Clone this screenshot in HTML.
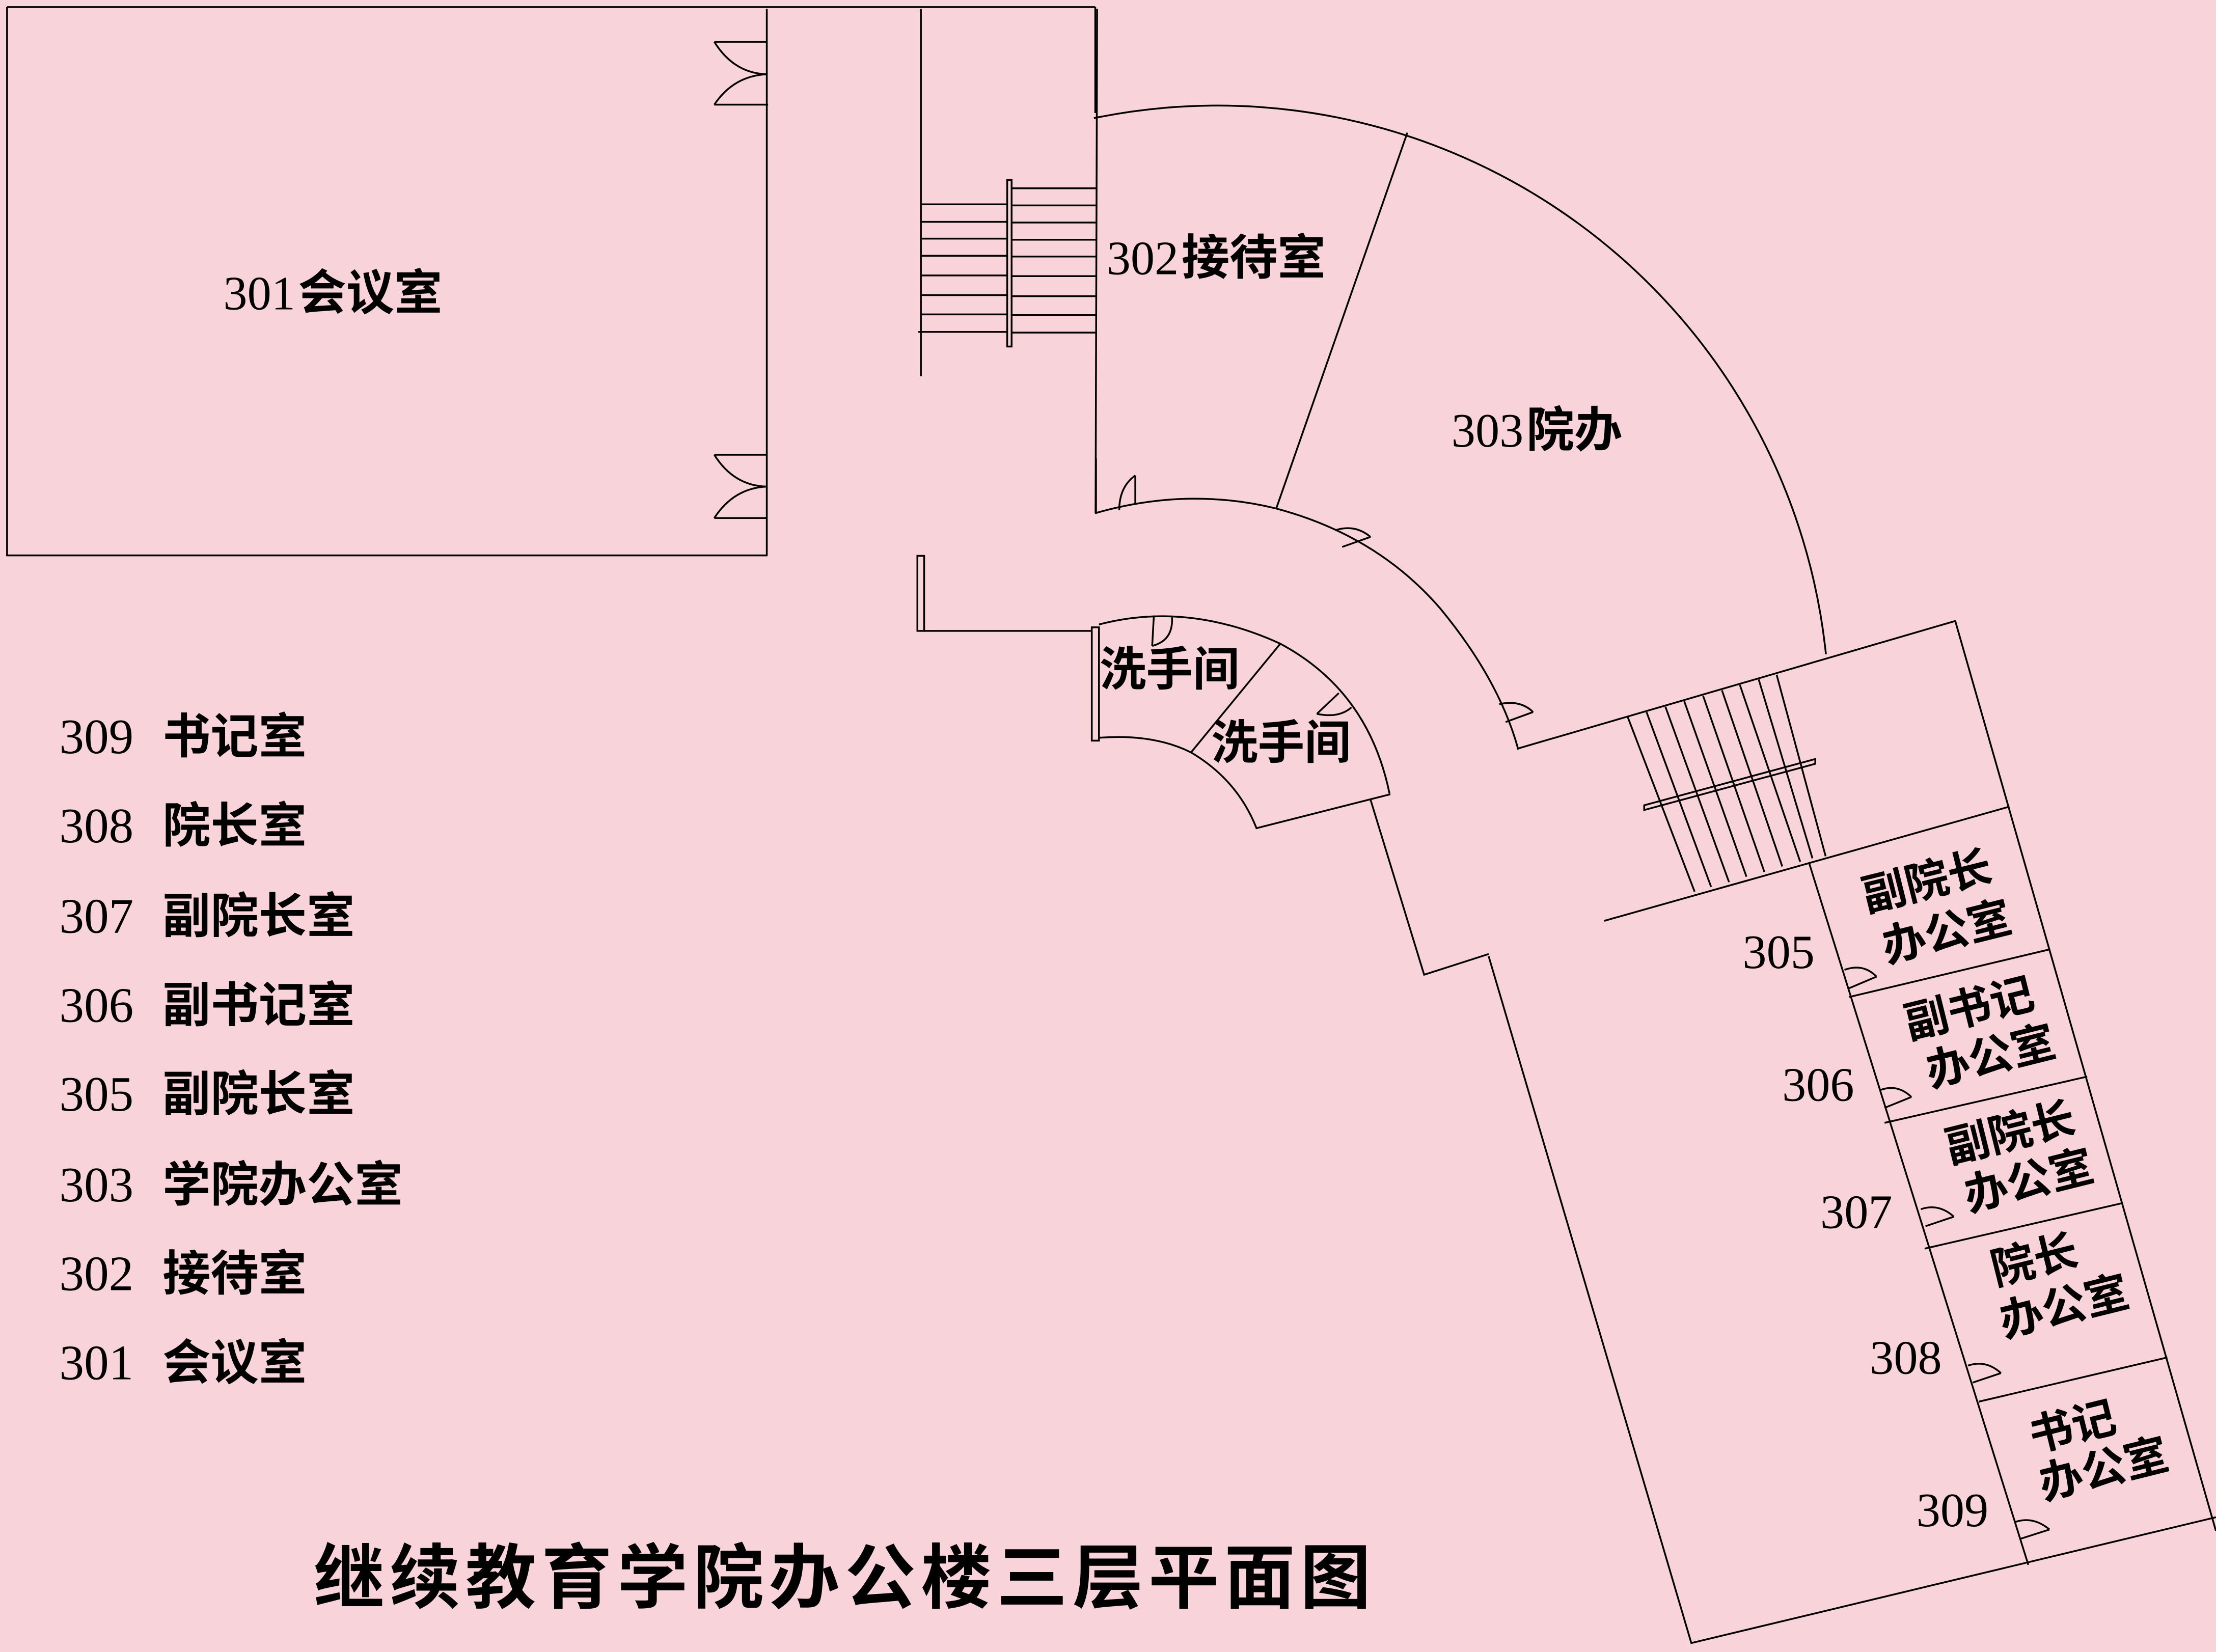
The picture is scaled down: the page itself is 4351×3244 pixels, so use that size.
<!DOCTYPE html>
<html><head><meta charset="utf-8">
<style>
html,body{margin:0;padding:0;background:#F8D3DA;}
svg{display:block;}
.l{fill:none;stroke:#000;stroke-width:3.5;vector-effect:non-scaling-stroke;}
.cn{font-family:"Liberation Sans","Noto Sans CJK SC",sans-serif;font-weight:bold;fill:#000;}
.nm{font-family:"Liberation Serif","Noto Serif CJK SC",serif;fill:#000;}
</style></head>
<body>
<svg width="4351" height="3244" viewBox="0 0 1568 1169" preserveAspectRatio="none" xmlns="http://www.w3.org/2000/svg">
<rect x="0" y="0" width="1568" height="1169" fill="#F8D3DA"/>

<path class="l" d="M5,5 L5,393 L543,393 M5,5 L775,5"/>
<path class="l" d="M775,5 L775,80"/>

<g transform="translate(504.5,0) scale(0.1839,0.2528)">
  <path class="l" d="M207,25 L207,1555 M800,25 L800,1053 M1478,25 L1472,1437"/>
  <path class="l" d="M5,117 L207,117 M5,293 L212,293 M5,117 Q80,205 207,208 M5,293 Q80,212 207,208"/>
  <path class="l" d="M5,1273 L207,1273 M5,1450 L207,1450 M5,1273 Q80,1360 207,1362 M5,1450 Q80,1366 207,1362"/>
  <path class="l" d="M800,572 L1130,572 M800,621 L1130,621 M800,668 L1130,668 M800,716 L1130,716 M800,771 L1130,771 M800,826 L1130,826 M800,880 L1130,880 M790,929 L1130,929"/>
  <rect class="l" x="1132" y="504" width="17" height="466"/>
  <path class="l" d="M1149,527 L1473,527 M1149,575 L1473,575 M1149,623 L1473,623 M1149,671 L1473,671 M1149,718 L1473,718 M1149,773 L1473,773 M1149,829 L1473,829 M1149,882 L1473,882 M1149,931 L1473,931"/>
</g>

<path class="l" d="M774,83.6 A433,433 0 0 1 1292,463"/>
<path class="l" d="M995.8,93.9 L903,360"/>

<g transform="translate(630.6,324.3) scale(0.2988,0.2529)">
  <path class="l" d="M485,0 L485,153 Q700,80 910,140 Q1150,215 1300,420 Q1440,620 1485,815"/>
  <path class="l" d="M578,48 L578,130 M578,48 Q540,80 540,145"/>
  <path class="l" d="M1068,248 L1135,220 M1055,200 Q1100,185 1135,220"/>
  <path class="l" d="M1455,738 L1520,710 M1440,688 Q1490,675 1520,710"/>
  <rect class="l" x="62" y="273" width="16" height="210"/>
  <path class="l" d="M78,483 L475,483"/>
  <rect class="l" x="475" y="473" width="17" height="317"/>
  <path class="l" d="M492,465 Q700,400 920,518 Q1130,650 1180,938"/>
  <path class="l" d="M492,782 Q620,770 710,823 Q820,900 865,1035 L1182,940"/>
  <path class="l" d="M922,518 L710,823"/>
  <path class="l" d="M622,440 L618,525 M665,445 Q668,510 618,525"/>
  <path class="l" d="M1060,657 L1008,715 M1008,715 Q1060,728 1090,697"/>
  <path class="l" d="M1135,955 L1262,1445 L1415,1387"/>
</g>

<g transform="translate(1045,414.4) scale(0.3335,0.4812)">
  <path class="l" d="M85,240 L1015,52 L1568,1390"/>
  <path class="l" d="M25,545 L455,1555 L1568,1370"/>
  <path class="l" d="M270,493 L1130,325"/>
  <path class="l" d="M320,193 L462,450 M360,186 L497,443 M400,178 L535,436 M440,170 L572,428 M480,162 L610,421 M520,154 L648,413 M558,146 L686,406 M598,138 L712,401 M636,131 L740,398"/>
  <polygon class="l" points="355,323 718,255 718,262 355,330"/>
  <path class="l" d="M705,408 L1170,1440"/>
  <path class="l" d="M790,605 L1215,535 M865,790 L1295,722 M950,975 L1370,908 M1065,1200 L1465,1135"/>
  <path class="l" d="M780,565 Q820,555 848,575 M790,592 L848,575"/>
  <path class="l" d="M855,742 Q892,732 922,752 M865,768 L922,752"/>
  <path class="l" d="M942,917 Q980,908 1012,928 M952,942 L1012,928"/>
  <path class="l" d="M1042,1147 Q1080,1138 1112,1158 M1052,1172 L1112,1158"/>
  <path class="l" d="M1142,1377 Q1180,1368 1215,1388 M1152,1402 L1215,1388"/>
</g>

<text class="nm" x="158" y="219" font-size="34">301</text><text class="cn" x="211" y="219" font-size="34">会议室</text>
<text class="nm" x="783" y="194" font-size="34">302</text><text class="cn" x="836" y="194" font-size="34">接待室</text>
<text class="nm" x="1027" y="316" font-size="34">303</text><text class="cn" x="1080" y="316" font-size="34">院办</text>
<text class="cn" x="778" y="485" font-size="33">洗手间</text>
<text class="cn" x="857" y="537" font-size="33">洗手间</text>

<text class="nm" x="1233" y="685" font-size="34">305</text>
<text class="nm" x="1261" y="779" font-size="34">306</text>
<text class="nm" x="1288" y="869" font-size="34">307</text>
<text class="nm" x="1323" y="972" font-size="34">308</text>
<text class="nm" x="1356" y="1080" font-size="34">309</text>

<g class="cn" font-size="31" text-anchor="middle">
<text transform="translate(1366,634) rotate(-14)">副院长</text>
<text transform="translate(1380,670) rotate(-14)">办公室</text>
<text transform="translate(1396,724) rotate(-14)">副书记</text>
<text transform="translate(1411,758) rotate(-14)">办公室</text>
<text transform="translate(1425,812) rotate(-14)">副院长</text>
<text transform="translate(1438,846) rotate(-14)">办公室</text>
<text transform="translate(1442,902) rotate(-14)">院长</text>
<text transform="translate(1463,935) rotate(-14)">办公室</text>
<text transform="translate(1469,1020) rotate(-14)">书记</text>
<text transform="translate(1491,1050) rotate(-14)">办公室</text>
</g>

<g font-size="35">
<text class="nm" x="42" y="533">309</text><text class="cn" x="115" y="533" font-size="34">书记室</text>
<text class="nm" x="42" y="596">308</text><text class="cn" x="115" y="596" font-size="34">院长室</text>
<text class="nm" x="42" y="660">307</text><text class="cn" x="115" y="660" font-size="34">副院长室</text>
<text class="nm" x="42" y="723">306</text><text class="cn" x="115" y="723" font-size="34">副书记室</text>
<text class="nm" x="42" y="786">305</text><text class="cn" x="115" y="786" font-size="34">副院长室</text>
<text class="nm" x="42" y="850">303</text><text class="cn" x="115" y="850" font-size="34">学院办公室</text>
<text class="nm" x="42" y="913">302</text><text class="cn" x="115" y="913" font-size="34">接待室</text>
<text class="nm" x="42" y="976">301</text><text class="cn" x="115" y="976" font-size="34">会议室</text>
</g>

<text class="cn" x="222" y="1134" font-size="50" textLength="748" lengthAdjust="spacing">继续教育学院办公楼三层平面图</text>
</svg>
</body></html>
